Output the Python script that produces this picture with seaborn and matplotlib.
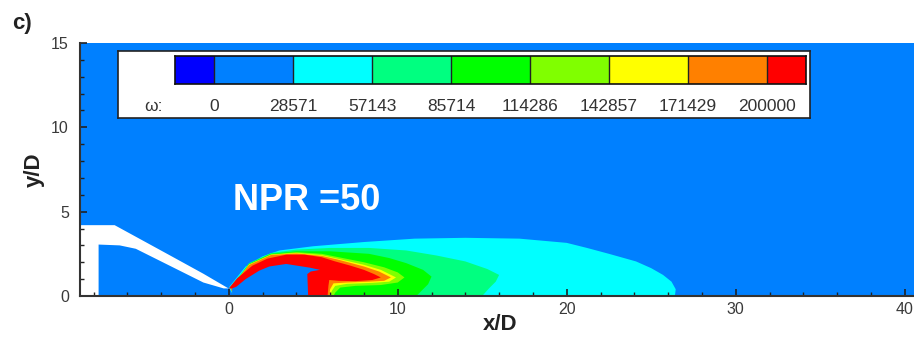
import numpy as np
import matplotlib
matplotlib.use("Agg")
import matplotlib.pyplot as plt
from matplotlib.colors import ListedColormap
import seaborn as sns

# ---------------- data ----------------
levels = [0, 28571, 57143, 85714, 114286, 142857, 171429, 200000]
level_colors = ["#0000ff", "#0080ff", "#00ffff", "#00ff80", "#00ff00",
                "#80ff00", "#ffff00", "#ff8000", "#ff0000"]
legend_cells = [0, 1, 1, 2, 2, 3, 3, 4, 4, 5, 5, 6, 6, 7, 7, 8]

x_major = [0, 10, 20, 30, 40]
y_major = [0, 5, 10, 15]

# nozzle wall (white, solid body) in x/D, y/D
nozzle_x = [-9.5, -6.75, -3.5, -1.5, -0.1, 0.0, -0.3, -1.5, -3.5, -5.5, -6.45, -7.7, -7.7, -9.5]
nozzle_y = [4.2, 4.2, 2.42, 1.32, 0.5, 0.45, 0.45, 0.8, 1.8, 2.8, 3.0, 3.05, 0.0, 0.0]

# contour band envelopes (level index, x, y)
cyan_x = [0.0, 1.0, 2.0, 3.0, 5.0, 8.0, 11.0, 14.0, 17.2, 20.0, 21.2, 22.5, 24.1, 25.0, 25.7, 26.2, 26.45, 26.4, 0.3]
cyan_y = [0.5, 1.75, 2.35, 2.7, 2.95, 3.2, 3.4, 3.45, 3.4, 3.15, 2.85, 2.5, 2.05, 1.65, 1.25, 0.85, 0.4, 0.0, 0.0]

spring_x = [0.1, 1.2, 2.5, 4.0, 6.0, 8.3, 10.5, 12.3, 14.0, 15.3, 16.0, 15.8, 15.4, 15.0, 0.3]
spring_y = [0.5, 1.95, 2.55, 2.75, 2.85, 2.85, 2.7, 2.4, 2.05, 1.6, 1.25, 0.85, 0.45, 0.0, 0.0]

green_x = [0.2, 1.2, 2.5, 4.0, 6.0, 8.3, 9.5, 10.5, 11.5, 12.0, 11.8, 11.4, 11.1, 0.3]
green_y = [0.5, 1.9, 2.5, 2.65, 2.65, 2.5, 2.25, 1.95, 1.55, 1.15, 0.7, 0.3, 0.0, 0.0]

chart_x = [0.2, 1.2, 2.5, 4.0, 5.5, 6.5, 8.0, 9.2, 10.0, 10.4, 10.0, 9.0, 7.5, 6.6, 6.3, 6.2, 0.3]
chart_y = [0.5, 1.88, 2.47, 2.6, 2.5, 2.3, 2.0, 1.7, 1.4, 1.1, 0.8, 0.65, 0.6, 0.5, 0.2, 0.0, 0.0]

yellow_x = [0.15, 1.2, 2.5, 4.0, 5.5, 6.5, 8.0, 9.0, 9.6, 9.9, 9.5, 8.5, 7.0, 6.3, 6.1, 6.0, 0.3]
yellow_y = [0.48, 1.86, 2.45, 2.55, 2.42, 2.2, 1.85, 1.55, 1.25, 1.1, 0.85, 0.78, 0.72, 0.6, 0.3, 0.0, 0.0]

orange_x = [0.1, 1.2, 2.5, 4.0, 5.5, 6.5, 8.0, 8.9, 9.4, 9.6, 9.2, 8.3, 7.0, 6.2, 6.0, 5.95, 0.3]
orange_y = [0.47, 1.84, 2.43, 2.52, 2.38, 2.15, 1.75, 1.45, 1.2, 1.1, 0.9, 0.85, 0.8, 0.75, 0.4, 0.0, 0.0]

# low-vorticity pocket under the shock arc
pocket_x = [0.2, 0.6, 1.4, 2.4, 3.4, 4.6, 5.5, 5.5, 0.2]
pocket_y = [0.45, 0.8, 1.4, 1.85, 2.0, 1.85, 1.6, 0.0, 0.0]

# peak vorticity: shear-layer arc, Mach-disc column and jet core band
red_x = [0.0, 0.5, 1.4, 2.3, 3.4, 4.5, 5.5, 6.3, 7.2, 8.0, 8.6, 9.0, 8.5, 7.5, 6.5,
         5.95, 5.9, 5.85, 4.7, 4.65, 4.85, 5.4, 4.8, 3.4, 2.4, 1.8, 1.0, 0.45, 0.2]
red_y = [0.45, 1.05, 1.8, 2.22, 2.45, 2.45, 2.3, 2.05, 1.8, 1.55, 1.3, 1.1, 0.95, 0.88, 0.9,
         0.95, 0.6, 0.0, 0.0, 1.3, 1.45, 1.55, 1.68, 1.9, 1.75, 1.5, 1.0, 0.55, 0.45]

bands = [
    (2, cyan_x, cyan_y),
    (3, spring_x, spring_y),
    (4, green_x, green_y),
    (5, chart_x, chart_y),
    (6, yellow_x, yellow_y),
    (7, orange_x, orange_y),
    (1, pocket_x, pocket_y),
    (8, red_x, red_y),
]

# ---------------- styling ----------------
sns.set_theme(style="ticks")
plt.rcParams["font.family"] = ["Liberation Sans", "DejaVu Sans"]

W, H = 914, 337
fig = plt.figure(figsize=(W / 100, H / 100), dpi=100)
fig.patch.set_facecolor("white")

ax = fig.add_axes([80 / W, (H - 296) / H, 834 / W, 253 / H])
ax.set_facecolor(level_colors[1])
ax.set_xlim(-8.8, 40.55)
ax.set_ylim(0, 15)

ax.fill(nozzle_x, nozzle_y, color="white", lw=0, zorder=1)
for lev, bx, by in bands:
    ax.fill(bx, by, color=level_colors[lev], lw=0, zorder=2, antialiased=True)

ax.set_xticks(x_major)
ax.set_xticks(np.arange(-8, 41, 2), minor=True)
ax.set_yticks(y_major)
ax.set_yticks(np.arange(0, 16, 1), minor=True)
ax.tick_params(which="major", direction="in", length=5, width=1.2, color="#222222",
               labelsize=11.5, labelcolor="#3a3a3a")
ax.tick_params(axis="x", which="major", pad=4)
ax.tick_params(axis="y", which="major", pad=8)
ax.tick_params(which="minor", direction="in", length=3, width=1.0, color="#222222")
for s in ["top", "right"]:
    ax.spines[s].set_visible(False)
for s in ["left", "bottom"]:
    ax.spines[s].set_color("#333333")
    ax.spines[s].set_linewidth(1.5)
    ax.spines[s].set_zorder(5)
ax.set_axisbelow(False)

ax.text(500 / W, (H - 325) / H, "x/D", transform=fig.transFigure, ha="center", va="center",
        fontsize=16, fontweight="bold", color="#222222")
ax.text(34 / W, (H - 170) / H, "y/D", transform=fig.transFigure, ha="center", va="center",
        rotation=90, fontsize=16, fontweight="bold", color="#222222")
fig.text(22 / W, (H - 24) / H, "c)", ha="center", va="center", fontsize=16,
         fontweight="bold", color="#222222")

ax.text(0.25, 5.65, "NPR =50", ha="left", va="center", fontsize=26,
        fontweight="bold", color="white", zorder=6)

# ---------------- legend (contour level bar) ----------------
box = fig.add_axes([118 / W, (H - 118) / H, (810 - 118) / W, (118 - 51) / H])
box.set_facecolor("white")
box.set_xticks([])
box.set_yticks([])
for sp in box.spines.values():
    sp.set_visible(True)
    sp.set_color("#222222")
    sp.set_linewidth(1.2)

cax = fig.add_axes([175 / W, (H - 84) / H, (806 - 175) / W, 28 / H])
sns.heatmap(np.array([legend_cells]), ax=cax, cmap=ListedColormap(level_colors),
            vmin=-0.5, vmax=8.5, cbar=False, xticklabels=False, yticklabels=False)
for i in range(len(levels)):
    cax.axvline(1 + 2 * i, color="#222222", lw=1.0)
for sp in cax.spines.values():
    sp.set_visible(True)
    sp.set_color("#111111")
    sp.set_linewidth(1.2)
for i, lev in enumerate(levels):
    cax.text(1 + 2 * i, 1.79, str(lev), ha="center", va="center", fontsize=12.5,
             color="#333333", clip_on=False)
cax.text(-0.55, 1.79, "ω:", ha="center", va="center", fontsize=12.5, color="#333333",
         clip_on=False)

fig.savefig("out.png", dpi=100)
